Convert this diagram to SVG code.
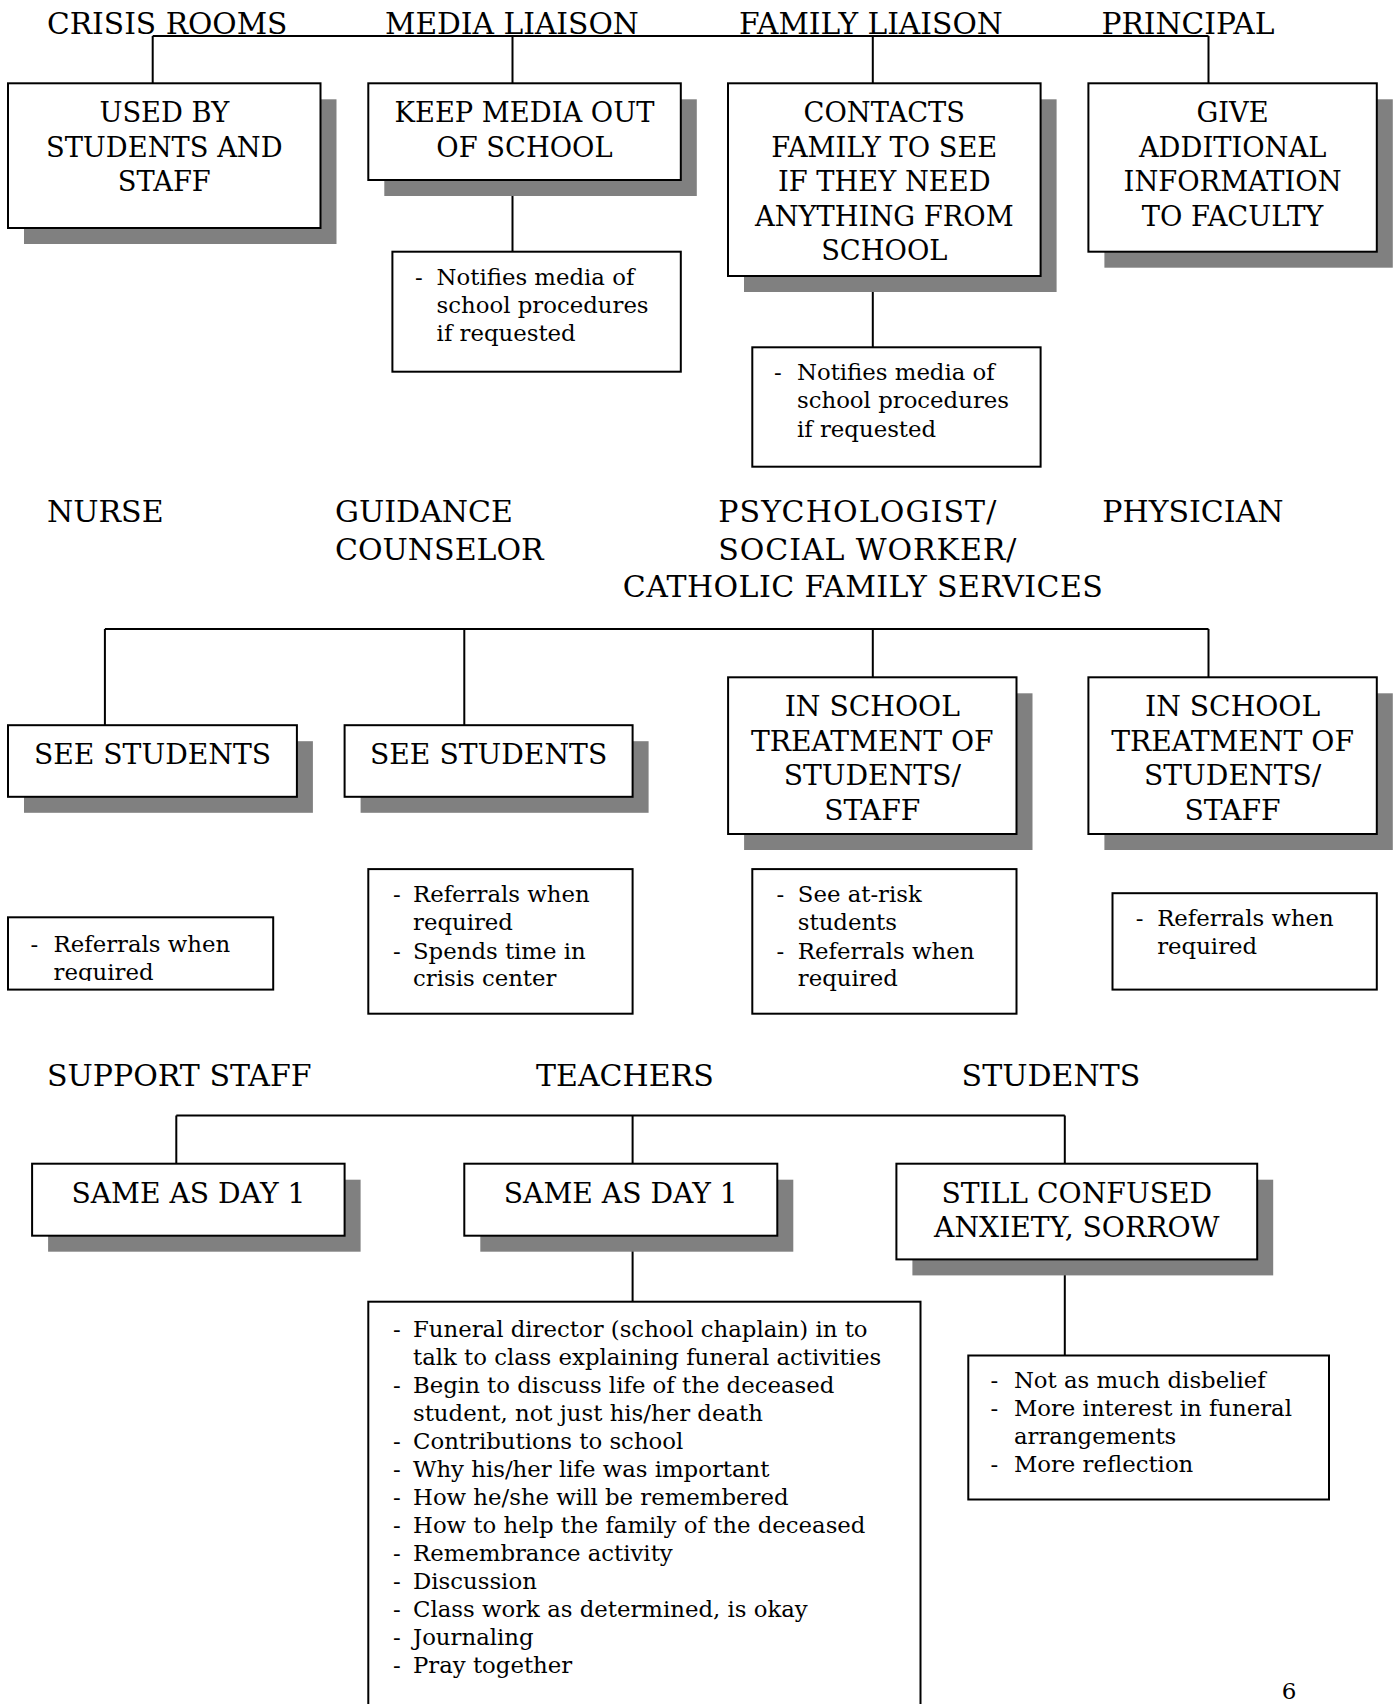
<svg xmlns="http://www.w3.org/2000/svg" width="1396" height="1704" viewBox="0 0 1396 1704">
<style>
text{font-family:"DejaVu Serif","Liberation Serif",serif;fill:#000}
.h{font-size:30px}
.h1{font-size:29.7px}
.t{font-size:28.2px;text-anchor:middle}
.t1{font-size:27.3px;text-anchor:middle}
.b{font-size:22.8px}
.box{fill:#fff;stroke:#000;stroke-width:2}
.sh{fill:#808080}
.c{fill:none;stroke:#000;stroke-width:2}
</style>
<defs>
<clipPath id="clipNurse"><rect x="0" y="900" width="300" height="81"/></clipPath>
</defs>
<rect width="1396" height="1704" fill="#fff"/>

<g id="headers">
<text class="h1" x="47" y="33.5">CRISIS ROOMS</text>
<text class="h1" x="385" y="33.5">MEDIA LIAISON</text>
<text class="h1" x="739" y="33.5">FAMILY LIAISON</text>
<text class="h1" x="1101.5" y="33.5">PRINCIPAL</text>
<text class="h" x="47" y="522">NURSE</text>
<text class="h" x="335" y="522">GUIDANCE</text>
<text class="h" x="335" y="560">COUNSELOR</text>
<text class="h" x="718.3" y="522" textLength="278" lengthAdjust="spacing">PSYCHOLOGIST/</text>
<text class="h" x="718.3" y="560" textLength="298" lengthAdjust="spacing">SOCIAL WORKER/</text>
<text class="h" x="622.8" y="597" textLength="480" lengthAdjust="spacing">CATHOLIC FAMILY SERVICES</text>
<text class="h" x="1102.3" y="522">PHYSICIAN</text>
<text class="h" x="47" y="1085.7">SUPPORT STAFF</text>
<text class="h" x="536" y="1085.7">TEACHERS</text>
<text class="h" x="961.6" y="1085.7">STUDENTS</text>
</g>

<g id="connectors">
<path class="c" d="M152.7 36H1208.5M152.7 36V83.3M512.5 36V83.3M872.8 36V83.3M1208.5 36V83.3M512.5 180V251.7M872.8 276V347.3"/>
<path class="c" d="M104.9 629H1208.5M104.9 629V725.2M464.3 629V725.2M872.8 629V677.3M1208.5 629V677.3"/>
<path class="c" d="M176.3 1115.4H1064.8M176.3 1115.4V1163.7M632.6 1115.4V1163.7M1064.8 1115.4V1163.7M632.6 1235.7V1301.7M1064.8 1259.4V1355.5"/>
</g>

<g id="used-by">
<rect class="sh" x="24" y="99.3" width="312.5" height="144.7"/>
<rect class="box" x="8" y="83.3" width="312.5" height="144.7"/>
<text class="t1" x="164.3" y="122">USED BY</text>
<text class="t1" x="164.3" y="156.5">STUDENTS AND</text>
<text class="t1" x="164.3" y="191">STAFF</text>
</g>

<g id="keep-media">
<rect class="sh" x="384.3" y="99.3" width="312.5" height="96.7"/>
<rect class="box" x="368.3" y="83.3" width="312.5" height="96.7"/>
<text class="t1" x="524.5" y="122">KEEP MEDIA OUT</text>
<text class="t1" x="524.5" y="156.5">OF SCHOOL</text>
</g>

<g id="media-notes">
<rect class="box" x="392.4" y="251.7" width="288.4" height="120"/>
<text class="b"><tspan x="415" y="285">-</tspan><tspan x="436.6" y="285">Notifies media of</tspan><tspan x="436.6" y="313.3">school procedures</tspan><tspan x="436.6" y="341">if requested</tspan></text>
</g>

<g id="contacts-family">
<rect class="sh" x="744" y="99.3" width="312.6" height="192.7"/>
<rect class="box" x="728" y="83.3" width="312.6" height="192.7"/>
<text class="t1" x="884.3" y="122">CONTACTS</text>
<text class="t1" x="884.3" y="156.5">FAMILY TO SEE</text>
<text class="t1" x="884.3" y="191">IF THEY NEED</text>
<text class="t1" x="884.3" y="225.5">ANYTHING FROM</text>
<text class="t1" x="884.3" y="260">SCHOOL</text>
</g>

<g id="family-notes">
<rect class="box" x="752.3" y="347.3" width="288.3" height="119.4"/>
<text class="b"><tspan x="774" y="380">-</tspan><tspan x="797" y="380">Notifies media of</tspan><tspan x="797" y="408.3">school procedures</tspan><tspan x="797" y="436.5">if requested</tspan></text>
</g>

<g id="give-info">
<rect class="sh" x="1104.4" y="99.3" width="288.4" height="168.4"/>
<rect class="box" x="1088.4" y="83.3" width="288.4" height="168.4"/>
<text class="t1" x="1232.6" y="122">GIVE</text>
<text class="t1" x="1232.6" y="156.5">ADDITIONAL</text>
<text class="t1" x="1232.6" y="191">INFORMATION</text>
<text class="t1" x="1232.6" y="225.5">TO FACULTY</text>
</g>

<g id="nurse-see">
<rect class="sh" x="24" y="741.2" width="288.9" height="71.6"/>
<rect class="box" x="8" y="725.2" width="288.9" height="71.6"/>
<text class="t" x="152.5" y="764">SEE STUDENTS</text>
</g>

<g id="guidance-see">
<rect class="sh" x="360.6" y="741.2" width="288" height="71.6"/>
<rect class="box" x="344.6" y="725.2" width="288" height="71.6"/>
<text class="t" x="488.6" y="764">SEE STUDENTS</text>
</g>

<g id="psych-treatment">
<rect class="sh" x="744.1" y="693.3" width="288.4" height="156.7"/>
<rect class="box" x="728.1" y="677.3" width="288.4" height="156.7"/>
<text class="t" x="872.3" y="716">IN SCHOOL</text>
<text class="t" x="872.3" y="750.5">TREATMENT OF</text>
<text class="t" x="872.3" y="785">STUDENTS/</text>
<text class="t" x="872.3" y="819.5">STAFF</text>
</g>

<g id="physician-treatment">
<rect class="sh" x="1104.4" y="693.3" width="288.4" height="156.7"/>
<rect class="box" x="1088.4" y="677.3" width="288.4" height="156.7"/>
<text class="t" x="1232.6" y="716">IN SCHOOL</text>
<text class="t" x="1232.6" y="750.5">TREATMENT OF</text>
<text class="t" x="1232.6" y="785">STUDENTS/</text>
<text class="t" x="1232.6" y="819.5">STAFF</text>
</g>

<g id="nurse-notes">
<rect class="box" x="8" y="917.3" width="265.2" height="72.3"/>
<text class="b" clip-path="url(#clipNurse)"><tspan x="30.4" y="951.5">-</tspan><tspan x="53.6" y="951.5">Referrals when</tspan><tspan x="53.6" y="979.5">required</tspan></text>
</g>

<g id="guidance-notes">
<rect class="box" x="368.3" y="869.1" width="264.3" height="144.6"/>
<text class="b"><tspan x="392.9" y="902">-</tspan><tspan x="413" y="902">Referrals when</tspan><tspan x="413" y="929.5">required</tspan><tspan x="392.9" y="958.5">-</tspan><tspan x="413" y="958.5">Spends time in</tspan><tspan x="413" y="985.5">crisis center</tspan></text>
</g>

<g id="psych-notes">
<rect class="box" x="752.3" y="869.1" width="264.2" height="144.6"/>
<text class="b"><tspan x="776.4" y="902">-</tspan><tspan x="797.8" y="902">See at-risk</tspan><tspan x="797.8" y="929.5">students</tspan><tspan x="776.4" y="958.5">-</tspan><tspan x="797.8" y="958.5">Referrals when</tspan><tspan x="797.8" y="985.5">required</tspan></text>
</g>

<g id="physician-notes">
<rect class="box" x="1112.5" y="893.2" width="264.3" height="96.4"/>
<text class="b"><tspan x="1135.7" y="926">-</tspan><tspan x="1157.2" y="926">Referrals when</tspan><tspan x="1157.2" y="953.5">required</tspan></text>
</g>

<g id="support-same">
<rect class="sh" x="48.1" y="1179.7" width="312.5" height="72"/>
<rect class="box" x="32.1" y="1163.7" width="312.5" height="72"/>
<text class="t" x="188.4" y="1203">SAME AS DAY 1</text>
</g>

<g id="teachers-same">
<rect class="sh" x="480.3" y="1179.7" width="313" height="72"/>
<rect class="box" x="464.3" y="1163.7" width="313" height="72"/>
<text class="t" x="620.8" y="1203">SAME AS DAY 1</text>
</g>

<g id="students-state">
<rect class="sh" x="912.4" y="1179.7" width="360.8" height="95.7"/>
<rect class="box" x="896.4" y="1163.7" width="360.8" height="95.7"/>
<text class="t" x="1076.8" y="1203">STILL CONFUSED</text>
<text class="t" x="1076.8" y="1237">ANXIETY, SORROW</text>
</g>

<g id="teachers-notes">
<rect class="box" x="368.3" y="1301.7" width="552.2" height="420"/>
<text class="b">
<tspan x="392.9" y="1336.5">-</tspan><tspan x="413" y="1336.5">Funeral director (school chaplain) in to</tspan>
<tspan x="413" y="1364.5">talk to class explaining funeral activities</tspan>
<tspan x="392.9" y="1392.6">-</tspan><tspan x="413" y="1392.6">Begin to discuss life of the deceased</tspan>
<tspan x="413" y="1420.6">student, not just his/her death</tspan>
<tspan x="392.9" y="1448.7">-</tspan><tspan x="413" y="1448.7">Contributions to school</tspan>
<tspan x="392.9" y="1476.7">-</tspan><tspan x="413" y="1476.7">Why his/her life was important</tspan>
<tspan x="392.9" y="1504.8">-</tspan><tspan x="413" y="1504.8">How he/she will be remembered</tspan>
<tspan x="392.9" y="1532.8">-</tspan><tspan x="413" y="1532.8">How to help the family of the deceased</tspan>
<tspan x="392.9" y="1560.9">-</tspan><tspan x="413" y="1560.9">Remembrance activity</tspan>
<tspan x="392.9" y="1588.9">-</tspan><tspan x="413" y="1588.9">Discussion</tspan>
<tspan x="392.9" y="1617">-</tspan><tspan x="413" y="1617">Class work as determined, is okay</tspan>
<tspan x="392.9" y="1645">-</tspan><tspan x="413" y="1645">Journaling</tspan>
<tspan x="392.9" y="1673.1">-</tspan><tspan x="413" y="1673.1">Pray together</tspan>
</text>
</g>

<g id="students-notes">
<rect class="box" x="968.3" y="1355.5" width="360.7" height="144"/>
<text class="b"><tspan x="990.6" y="1388.2">-</tspan><tspan x="1013.9" y="1388.2">Not as much disbelief</tspan><tspan x="990.6" y="1416.2">-</tspan><tspan x="1013.9" y="1416.2">More interest in funeral</tspan><tspan x="1013.9" y="1444.2">arrangements</tspan><tspan x="990.6" y="1472.2">-</tspan><tspan x="1013.9" y="1472.2">More reflection</tspan></text>
</g>

<text id="page-number" x="1281.7" y="1699" style="font-size:23px">6</text>
</svg>
